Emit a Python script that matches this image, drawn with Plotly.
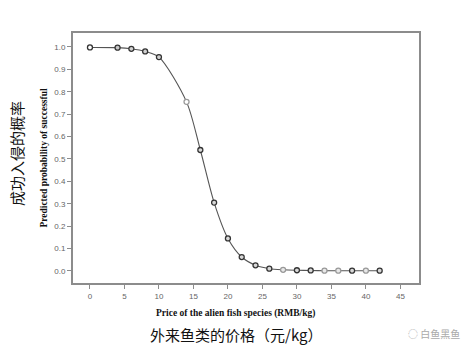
import plotly.graph_objects as go

price = [0, 4, 6, 8, 10, 14, 16, 18, 20, 22, 24, 26, 28, 30, 32, 34, 36, 38, 40, 42]
prob = [0.998, 0.997, 0.992, 0.980, 0.955, 0.755, 0.540, 0.305, 0.145, 0.062,
        0.025, 0.010, 0.005, 0.003, 0.002, 0.001, 0.001, 0.001, 0.001, 0.001]
marker_fill = ["#ffffff", "#c8c8c8", "#d0d0d0", "#d0d0d0", "#d0d0d0", "#ffffff", "#d8d8d8",
               "#d8d8d8", "#d8d8d8", "#d8d8d8", "#d8d8d8", "#d8d8d8", "#e8e8e8", "#d8d8d8",
               "#d8d8d8", "#e8e8e8", "#e8e8e8", "#d8d8d8", "#e8e8e8", "#d8d8d8"]
marker_edge = ["#333333", "#333333", "#333333", "#333333", "#333333", "#999999", "#333333",
               "#333333", "#333333", "#333333", "#333333", "#333333", "#999999", "#333333",
               "#333333", "#999999", "#999999", "#333333", "#999999", "#333333"]
xticks = [0, 5, 10, 15, 20, 25, 30, 35, 40, 45]
yticks = [0.0, 0.1, 0.2, 0.3, 0.4, 0.5, 0.6, 0.7, 0.8, 0.9, 1.0]

fig = go.Figure()
fig.add_trace(go.Scatter(
    x=price, y=prob, mode="lines",
    line=dict(color="#555555", width=1.1, shape="spline", smoothing=0.8),
    hoverinfo="skip", showlegend=False))
fig.add_trace(go.Scatter(
    x=price, y=prob, mode="markers",
    marker=dict(size=5, color=marker_fill, line=dict(color=marker_edge, width=1.3)),
    showlegend=False))

axis_common = dict(showline=True, linecolor="#8c8c8c", linewidth=2, mirror=True,
                   ticks="outside", ticklen=4, tickwidth=1.2, tickcolor="#8c8c8c",
                   showgrid=False, zeroline=False,
                   tickfont=dict(family="Arial, Liberation Sans", size=8, color="#666666"))

fig.update_layout(
    width=464, height=351,
    margin=dict(l=73, r=45, t=33, b=68),
    paper_bgcolor="white", plot_bgcolor="white",
    xaxis=dict(range=[-2.46, 47.7], tickvals=xticks, ticktext=[str(v) for v in xticks], **axis_common),
    yaxis=dict(range=[-0.054, 1.0625], tickvals=yticks, ticktext=[f"{v:.1f}" for v in yticks], **axis_common),
    annotations=[
        dict(text="<b>Price of the alien fish species (RMB/kg)</b>", xref="paper", yref="paper",
             x=0.471, y=-0.092, xanchor="center", yanchor="top", showarrow=False,
             font=dict(family="Liberation Serif, DejaVu Serif", size=9.5, color="#111111")),
        dict(text="外来鱼类的价格（元/kg）", xref="paper", yref="paper",
             x=0.471, y=-0.155, xanchor="center", yanchor="top", showarrow=False,
             font=dict(family="Noto Sans CJK SC", size=15, color="#111111")),
        dict(text="<b>Predicted probability of successful</b>", xref="paper", yref="paper",
             x=-0.085, y=0.5, xanchor="center", yanchor="middle", textangle=-90, showarrow=False,
             font=dict(family="Liberation Serif, DejaVu Serif", size=9.5, color="#111111")),
        dict(text="成功入侵的概率", xref="paper", yref="paper",
             x=-0.165, y=0.52, xanchor="center", yanchor="middle", textangle=-90, showarrow=False,
             font=dict(family="Noto Sans CJK SC", size=15, color="#111111")),
        dict(text="◌ 白鱼黑鱼", xref="paper", yref="paper",
             x=1.125, y=-0.165, xanchor="right", yanchor="top", showarrow=False,
             font=dict(family="Noto Sans CJK SC", size=10, color="#aaaaaa")),
    ],
)

fig.write_html("out.html")
